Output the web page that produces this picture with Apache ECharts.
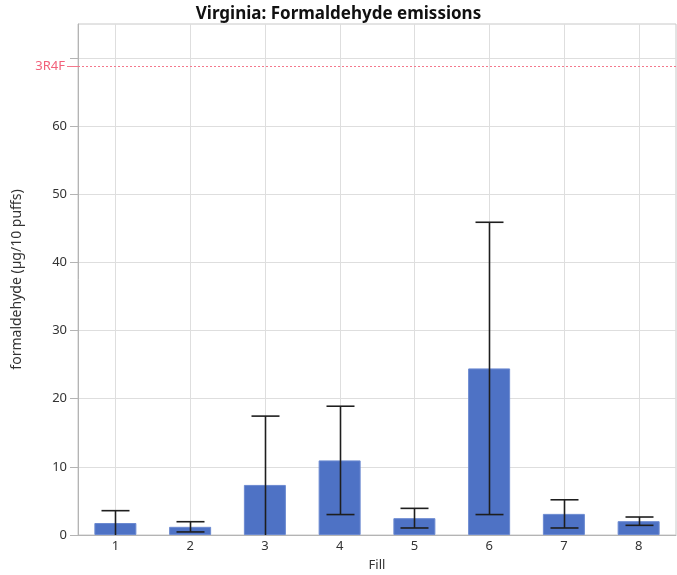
<!DOCTYPE html>
<html>
<head>
<meta charset="utf-8">
<script src="https://cdn.jsdelivr.net/npm/echarts@6/dist/echarts.min.js"></script>
<style>
  html, body { margin: 0; padding: 0; background: #fff; }
  #chart { width: 677px; height: 575px; }
</style>
</head>
<body>
<div id="chart"></div>
<script>
// Formaldehyde emissions per fill (mean ± SD), Virginia tobacco
const fills = ['1', '2', '3', '4', '5', '6', '7', '8'];
const meanValues = [1.76, 1.2, 7.35, 10.95, 2.47, 24.45, 3.1, 2.03];
const sdValues = [1.81, 0.75, 10.1, 7.95, 1.44, 21.45, 2.07, 0.61];
const referenceLabel = '3R4F';
const referenceValue = 68.8;
const yMin = 0;
const yMax = 75;
const yInterval = 10;
const yTickValues = [0, 10, 20, 30, 40, 50, 60, 70];
const yTickLabels = ['0', '10', '20', '30', '40', '50', '60', ''];

const FONT = '"Noto Sans", "Open Sans", sans-serif';
const chart = echarts.init(document.getElementById('chart'), null, { renderer: 'canvas' });

const errorData = fills.map((f, i) => [i, meanValues[i] - sdValues[i], meanValues[i] + sdValues[i]]);

chart.setOption({
  animation: false,
  title: {
    text: 'Virginia: Formaldehyde emissions',
    left: 'center',
    top: 1,
    textStyle: { fontFamily: FONT, fontSize: 17, fontWeight: 'bold', color: '#111' }
  },
  grid: {
    left: 78, right: 1, top: 24, bottom: 40,
    containLabel: false, outerBoundsMode: 'none',
    show: true, borderColor: '#c8c8c8', borderWidth: 1
  },
  xAxis: {
    type: 'category',
    data: fills,
    name: 'Fill',
    nameLocation: 'middle',
    nameGap: 24,
    nameTextStyle: { fontFamily: FONT, fontSize: 13, color: '#333' },
    axisLine: { lineStyle: { color: '#b4b4b4' } },
    axisTick: { show: false },
    axisLabel: { fontFamily: FONT, fontSize: 13, color: '#333', margin: 5 },
    splitLine: { show: false }
  },
  yAxis: {
    type: 'value',
    min: yMin,
    max: yMax,
    interval: yInterval,
    name: 'formaldehyde (µg/10 puffs)',
    nameLocation: 'middle',
    nameGap: 54,
    nameTextStyle: { fontFamily: FONT, fontSize: 14, color: '#333' },
    axisLine: { show: true, lineStyle: { color: '#b4b4b4' } },
    axisTick: { show: true, length: 8, customValues: yTickValues, lineStyle: { color: '#b4b4b4' } },
    axisLabel: {
      fontFamily: FONT, fontSize: 13, color: '#333', margin: 11,
      customValues: yTickValues,
      formatter: v => yTickLabels[yTickValues.indexOf(v)] ?? ''
    },
    splitLine: { show: true, lineStyle: { color: '#dedede', width: 1 } }
  },
  series: [
    {
      // vertical grid lines through each category centre, plus the reference level
      type: 'custom',
      z: 0,
      silent: true,
      data: fills.map((f, i) => [i]),
      renderItem: (params, api) => {
        const p0 = api.coord([api.value(0), yMin]);
        const p1 = api.coord([api.value(0), yMax]);
        return {
          type: 'line',
          shape: { x1: Math.round(p0[0]) + 0.5, y1: p0[1], x2: Math.round(p1[0]) + 0.5, y2: p1[1] },
          style: { stroke: '#dedede', lineWidth: 1 }
        };
      },
      markLine: {
        silent: true,
        symbol: 'none',
        label: { show: false },
        data: [
          [
            { x: 78, yAxis: referenceValue, lineStyle: { color: '#f4788c', type: [2, 2], width: 1 } },
            { x: 676, yAxis: referenceValue }
          ],
          [
            {
              x: 67, yAxis: referenceValue,
              lineStyle: { color: '#f4788c', type: 'solid', width: 1 },
              label: {
                show: true,
                position: 'start',
                formatter: referenceLabel,
                color: '#f2607a',
                fontFamily: FONT,
                fontSize: 13,
                distance: 2
              }
            },
            { x: 78, yAxis: referenceValue }
          ]
        ]
      }
    },
    {
      type: 'bar',
      z: 2,
      data: meanValues,
      barWidth: 42,
      itemStyle: { color: '#4e72c5', borderColor: '#6c8ad1', borderWidth: 1 }
    },
    {
      // standard deviation whiskers; caps beyond the axis range are left out
      type: 'custom',
      z: 3,
      clip: true,
      data: errorData,
      renderItem: (params, api) => {
        const x = api.value(0);
        const loVal = api.value(1);
        const lo = api.coord([x, Math.max(loVal, yMin)]);
        const hi = api.coord([x, api.value(2)]);
        const cx = Math.round(lo[0]) + 0.5;
        const half = 14;
        const style = { stroke: '#1e1e1e', lineWidth: 1.6 };
        const children = [
          { type: 'line', shape: { x1: cx, y1: lo[1], x2: cx, y2: hi[1] }, style },
          { type: 'line', shape: { x1: cx - half, y1: hi[1], x2: cx + half, y2: hi[1] }, style }
        ];
        if (loVal >= yMin) {
          children.push({ type: 'line', shape: { x1: cx - half, y1: lo[1], x2: cx + half, y2: lo[1] }, style });
        }
        return { type: 'group', children };
      }
    }
  ]
});
</script>
</body>
</html>
